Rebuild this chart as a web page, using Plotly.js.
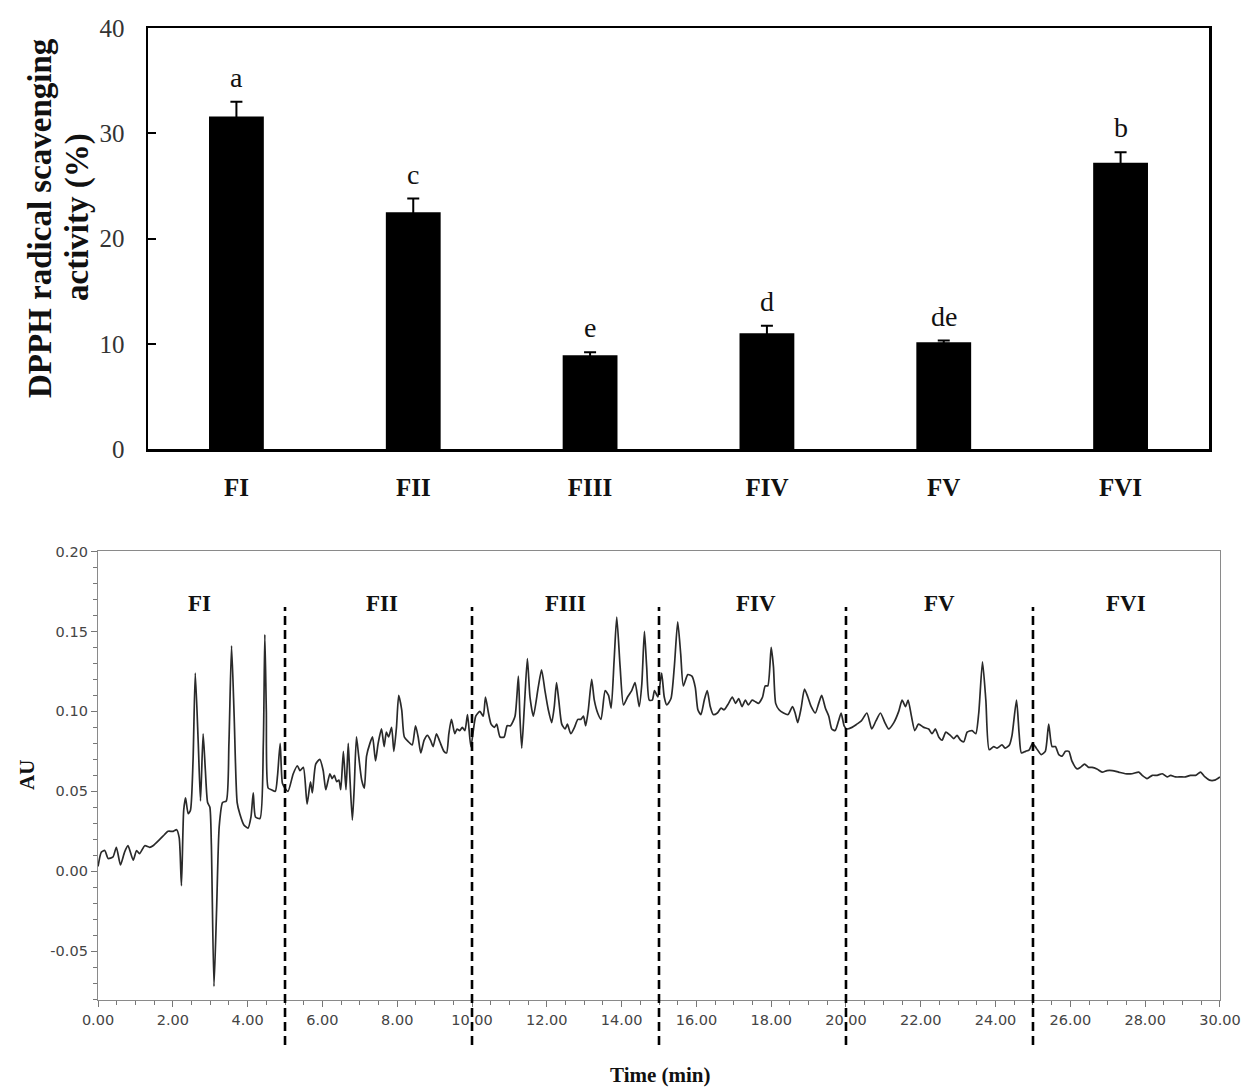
<!DOCTYPE html>
<html>
<head>
<meta charset="utf-8">
<script src="https://cdn.plot.ly/plotly-3.0.1.min.js"></script>
<style>html,body{margin:0;padding:0;background:#fff;}#chart{width:1247px;height:1088px;}</style>
</head>
<body>
<div id="chart"></div>
<script>
// ---------- Top panel: DPPH radical scavenging activity ----------
const fractions = ['FI', 'FII', 'FIII', 'FIV', 'FV', 'FVI'];
const dpphMean = [31.6, 22.5, 8.9, 11.0, 10.15, 27.2];
const dpphErr = [1.4, 1.3, 0.3, 0.7, 0.15, 1.0];
const sigLetters = ['a', 'c', 'e', 'd', 'de', 'b'];

// ---------- Bottom panel: chromatogram (AU vs time, min) ----------
const timeMin = [
  0, 0.09, 0.18, 0.27, 0.40, 0.49, 0.60, 0.71, 0.80, 0.94, 1.03, 1.11, 1.25, 1.38, 1.47, 1.65, 1.78, 1.87, 2.01, 2.10,
  2.17, 2.23, 2.29, 2.34, 2.41, 2.47, 2.54, 2.60, 2.68, 2.74, 2.81, 2.87, 2.93, 2.99, 3.03, 3.10, 3.17, 3.24, 3.33, 3.43,
  3.50, 3.57, 3.64, 3.72, 3.79, 3.90, 4.01, 4.09, 4.15, 4.21, 4.33, 4.42, 4.46, 4.50, 4.55, 4.64, 4.74, 4.80, 4.87, 4.93,
  5.00, 5.08, 5.22, 5.33, 5.40, 5.49, 5.59, 5.68, 5.73, 5.82, 5.93, 6.02, 6.09, 6.20, 6.26, 6.32, 6.38, 6.44, 6.49, 6.56,
  6.63, 6.69, 6.73, 6.80, 6.85, 6.91, 6.97, 7.05, 7.12, 7.18, 7.27, 7.34, 7.42, 7.49, 7.58, 7.65, 7.71, 7.77, 7.85, 7.91,
  7.98, 8.04, 8.12, 8.19, 8.30, 8.40, 8.49, 8.56, 8.63, 8.72, 8.81, 8.89, 8.96, 9.05, 9.14, 9.25, 9.32, 9.38, 9.45, 9.54,
  9.60, 9.67, 9.74, 9.81, 9.88, 9.97, 10.10, 10.21, 10.30, 10.36, 10.44, 10.51, 10.60, 10.66, 10.75, 10.86, 10.94, 11.03, 11.15, 11.24,
  11.28, 11.33, 11.40, 11.48, 11.55, 11.64, 11.77, 11.86, 11.95, 12.04, 12.13, 12.20, 12.26, 12.32, 12.40, 12.49, 12.55, 12.64, 12.74, 12.83,
  12.91, 12.98, 13.04, 13.11, 13.20, 13.27, 13.36, 13.45, 13.56, 13.65, 13.72, 13.80, 13.87, 13.96, 14.05, 14.16, 14.27, 14.36, 14.47, 14.54,
  14.61, 14.67, 14.74, 14.82, 14.88, 14.97, 15.07, 15.14, 15.21, 15.32, 15.41, 15.50, 15.58, 15.65, 15.77, 15.88, 15.97, 16.04, 16.12, 16.21,
  16.29, 16.37, 16.45, 16.56, 16.66, 16.74, 16.86, 16.96, 17.05, 17.13, 17.22, 17.31, 17.39, 17.49, 17.58, 17.66, 17.77, 17.84, 17.91, 18.00,
  18.06, 18.12, 18.21, 18.33, 18.45, 18.57, 18.64, 18.71, 18.80, 18.89, 18.98, 19.07, 19.18, 19.27, 19.35, 19.45, 19.54, 19.62, 19.71, 19.80,
  19.87, 19.95, 20.02, 20.16, 20.29, 20.41, 20.56, 20.69, 20.80, 20.92, 21.04, 21.14, 21.28, 21.41, 21.50, 21.59, 21.66, 21.75, 21.84, 21.94,
  22.08, 22.21, 22.30, 22.39, 22.48, 22.57, 22.67, 22.79, 22.88, 22.97, 23.06, 23.15, 23.24, 23.37, 23.47, 23.55, 23.65, 23.74, 23.83, 23.95,
  24.04, 24.17, 24.26, 24.37, 24.44, 24.56, 24.63, 24.69, 24.80, 24.90, 24.99, 25.09, 25.22, 25.33, 25.42, 25.51, 25.60, 25.69, 25.78, 25.87,
  25.96, 26.04, 26.18, 26.27, 26.38, 26.49, 26.58, 26.71, 26.85, 26.98, 27.12, 27.29, 27.47, 27.65, 27.83, 27.92, 28.05, 28.19, 28.32, 28.46,
  28.59, 28.68, 28.81, 28.95, 29.08, 29.21, 29.35, 29.48, 29.60, 29.72, 29.86, 30.00
];
const absorbance = [
  0.003, 0.012, 0.013, 0.008, 0.009, 0.015, 0.004, 0.012, 0.016, 0.007, 0.013, 0.011, 0.016, 0.015, 0.016, 0.020, 0.023, 0.025, 0.025, 0.026,
  0.021, -0.009, 0.038, 0.046, 0.036, 0.038, 0.069, 0.124, 0.080, 0.044, 0.086, 0.063, 0.043, 0.040, 0.017, -0.072, -0.024, 0.028, 0.043, 0.044,
  0.080, 0.141, 0.097, 0.043, 0.036, 0.029, 0.027, 0.034, 0.049, 0.034, 0.033, 0.080, 0.148, 0.100, 0.052, 0.051, 0.050, 0.060, 0.080, 0.055,
  0.052, 0.050, 0.061, 0.066, 0.063, 0.065, 0.042, 0.056, 0.049, 0.067, 0.070, 0.063, 0.051, 0.061, 0.058, 0.060, 0.056, 0.057, 0.051, 0.075,
  0.051, 0.080, 0.061, 0.032, 0.052, 0.084, 0.072, 0.057, 0.052, 0.072, 0.080, 0.084, 0.069, 0.080, 0.089, 0.078, 0.087, 0.084, 0.090, 0.075,
  0.090, 0.110, 0.101, 0.084, 0.081, 0.079, 0.091, 0.084, 0.074, 0.082, 0.085, 0.082, 0.078, 0.086, 0.081, 0.075, 0.074, 0.086, 0.095, 0.086,
  0.089, 0.088, 0.090, 0.088, 0.098, 0.078, 0.097, 0.100, 0.097, 0.109, 0.099, 0.092, 0.090, 0.092, 0.084, 0.084, 0.091, 0.091, 0.097, 0.122,
  0.097, 0.077, 0.103, 0.133, 0.109, 0.097, 0.115, 0.126, 0.113, 0.101, 0.093, 0.103, 0.118, 0.107, 0.092, 0.089, 0.092, 0.086, 0.090, 0.095,
  0.095, 0.097, 0.091, 0.101, 0.120, 0.107, 0.099, 0.095, 0.113, 0.110, 0.102, 0.132, 0.159, 0.128, 0.104, 0.109, 0.113, 0.118, 0.103, 0.117,
  0.150, 0.128, 0.107, 0.107, 0.113, 0.109, 0.124, 0.109, 0.104, 0.108, 0.128, 0.156, 0.136, 0.116, 0.123, 0.122, 0.115, 0.101, 0.098, 0.107,
  0.113, 0.103, 0.098, 0.099, 0.102, 0.101, 0.105, 0.109, 0.105, 0.108, 0.103, 0.107, 0.104, 0.107, 0.106, 0.105, 0.109, 0.116, 0.116, 0.140,
  0.128, 0.105, 0.101, 0.099, 0.098, 0.103, 0.099, 0.093, 0.102, 0.114, 0.109, 0.103, 0.099, 0.105, 0.110, 0.102, 0.097, 0.089, 0.088, 0.094,
  0.099, 0.091, 0.089, 0.090, 0.092, 0.094, 0.099, 0.089, 0.094, 0.099, 0.093, 0.089, 0.093, 0.100, 0.107, 0.103, 0.107, 0.097, 0.088, 0.092,
  0.090, 0.089, 0.086, 0.089, 0.084, 0.082, 0.087, 0.085, 0.083, 0.085, 0.082, 0.081, 0.087, 0.088, 0.086, 0.099, 0.131, 0.107, 0.076, 0.078,
  0.077, 0.079, 0.077, 0.079, 0.085, 0.107, 0.086, 0.074, 0.075, 0.076, 0.080, 0.077, 0.073, 0.075, 0.092, 0.078, 0.078, 0.073, 0.072, 0.075,
  0.075, 0.069, 0.064, 0.065, 0.067, 0.065, 0.065, 0.064, 0.062, 0.063, 0.063, 0.062, 0.061, 0.061, 0.062, 0.060, 0.058, 0.060, 0.060, 0.061,
  0.059, 0.060, 0.059, 0.059, 0.059, 0.060, 0.060, 0.062, 0.059, 0.057, 0.057, 0.059
];
const fractionBounds = [5, 10, 15, 20, 25];
const fractionLabelTimes = [2.7, 7.6, 12.5, 17.6, 22.5, 27.5];
const auTickVals = [-0.05, 0, 0.05, 0.10, 0.15, 0.20];
const auTickText = ['-0.05', '0.00', '0.05', '0.10', '0.15', '0.20'];

// ---------- geometry helpers (pixel -> paper) ----------
const W = 1247, H = 1088;
const px = v => v / W;
const py = v => 1 - v / H;

const serif = 'Liberation Serif, Times New Roman, serif';
const sans = 'DejaVu Sans, Arial, sans-serif';

const traces = [
  {
    type: 'bar', x: fractions, y: dpphMean, xaxis: 'x', yaxis: 'y',
    width: 0.31,
    marker: {color: '#000', line: {width: 0}},
    error_y: {type: 'data', array: dpphErr, visible: true, color: '#000', thickness: 2, width: 6},
    showlegend: false, hoverinfo: 'skip'
  },
  {
    type: 'scatter', mode: 'lines', x: timeMin, y: absorbance, xaxis: 'x2', yaxis: 'y2',
    line: {color: '#2a2a2a', width: 1.7, shape: 'spline', smoothing: 0.6},
    showlegend: false, hoverinfo: 'skip'
  }
];

const annotations = [];
fractions.forEach((f, i) => {
  annotations.push({
    xref: 'x', yref: 'y', x: f, y: dpphMean[i] + dpphErr[i],
    text: sigLetters[i], showarrow: false, yanchor: 'bottom', yshift: 7,
    font: {family: serif, size: 28, color: '#111'}
  });
});
fractions.forEach((f, i) => {
  annotations.push({
    xref: 'x2', yref: 'paper', x: fractionLabelTimes[i], y: py(603),
    text: f, showarrow: false, xanchor: 'center', yanchor: 'middle',
    font: {family: serif, size: 23, color: '#111', weight: 'bold'}
  });
});
annotations.push({
  xref: 'paper', yref: 'paper', x: px(40), y: py(218), textangle: -90,
  text: 'DPPH radical scavenging', showarrow: false,
  xanchor: 'center', yanchor: 'middle',
  font: {family: serif, size: 33, color: '#111', weight: 'bold'}
});
annotations.push({
  xref: 'paper', yref: 'paper', x: px(77), y: py(217), textangle: -90,
  text: 'activity (%)', showarrow: false,
  xanchor: 'center', yanchor: 'middle',
  font: {family: serif, size: 33, color: '#111', weight: 'bold'}
});
annotations.push({
  xref: 'paper', yref: 'paper', x: px(27), y: py(775), textangle: -90,
  text: 'AU', showarrow: false, xanchor: 'center', yanchor: 'middle',
  font: {family: serif, size: 21, color: '#111', weight: 'bold'}
});
annotations.push({
  xref: 'paper', yref: 'paper', x: px(660), y: py(1075),
  text: 'Time (min)', showarrow: false, xanchor: 'center', yanchor: 'middle',
  font: {family: serif, size: 21, color: '#111', weight: 'bold'}
});

const shapes = fractionBounds.map(t => ({
  type: 'line', xref: 'x2', yref: 'paper', x0: t, x1: t, y0: py(1045), y1: py(607),
  line: {color: '#000', width: 2.6, dash: '9px,5px'}
}));

const layout = {
  width: W, height: H,
  margin: {l: 0, r: 0, t: 0, b: 0},
  paper_bgcolor: '#fff', plot_bgcolor: '#fff',
  showlegend: false,
  xaxis: {
    domain: [px(148), px(1209)], anchor: 'y',
    type: 'category', showline: true, mirror: true, linecolor: '#000', linewidth: 2.5,
    ticks: '', showgrid: false, zeroline: false,
    tickfont: {family: serif, size: 25, color: '#111', weight: 'bold'},
    ticklabelstandoff: 14
  },
  yaxis: {
    domain: [py(449), py(28)], anchor: 'x',
    range: [0, 40], dtick: 10, tick0: 0,
    showline: true, mirror: true, linecolor: '#000', linewidth: 2.5,
    ticks: 'inside', ticklen: 8, tickwidth: 2, tickcolor: '#000',
    showgrid: false, zeroline: false,
    tickfont: {family: serif, size: 25, color: '#333'},
    ticklabelstandoff: 16
  },
  xaxis2: {
    domain: [px(98), px(1220)], anchor: 'y2',
    range: [-0.001, 30.001], dtick: 2, tick0: 0, tickformat: '.2f',
    showline: true, mirror: true, linecolor: '#8a8a8a', linewidth: 1.2,
    ticks: 'outside', ticklen: 6, tickwidth: 1, tickcolor: '#777',
    minor: {dtick: 0.5, ticks: 'outside', ticklen: 4, tickcolor: '#777', tickwidth: 1, showgrid: false},
    showgrid: false, zeroline: false,
    tickfont: {family: sans, size: 14.5, color: '#444'}
  },
  yaxis2: {
    domain: [py(1000), py(551)], anchor: 'x2',
    range: [-0.0805, 0.2003],
    tickmode: 'array', tickvals: auTickVals, ticktext: auTickText,
    showline: true, mirror: true, linecolor: '#8a8a8a', linewidth: 1.2,
    ticks: 'outside', ticklen: 6, tickwidth: 1, tickcolor: '#777',
    minor: {tickmode: 'linear', tick0: 0, dtick: 0.01, ticks: 'outside', ticklen: 4, tickcolor: '#777', tickwidth: 1, showgrid: false},
    showgrid: false, zeroline: false,
    tickfont: {family: sans, size: 14.5, color: '#444'}
  },
  annotations: annotations,
  shapes: shapes
};

Plotly.newPlot('chart', traces, layout, {staticPlot: true, displayModeBar: false});
</script>
</body>
</html>
